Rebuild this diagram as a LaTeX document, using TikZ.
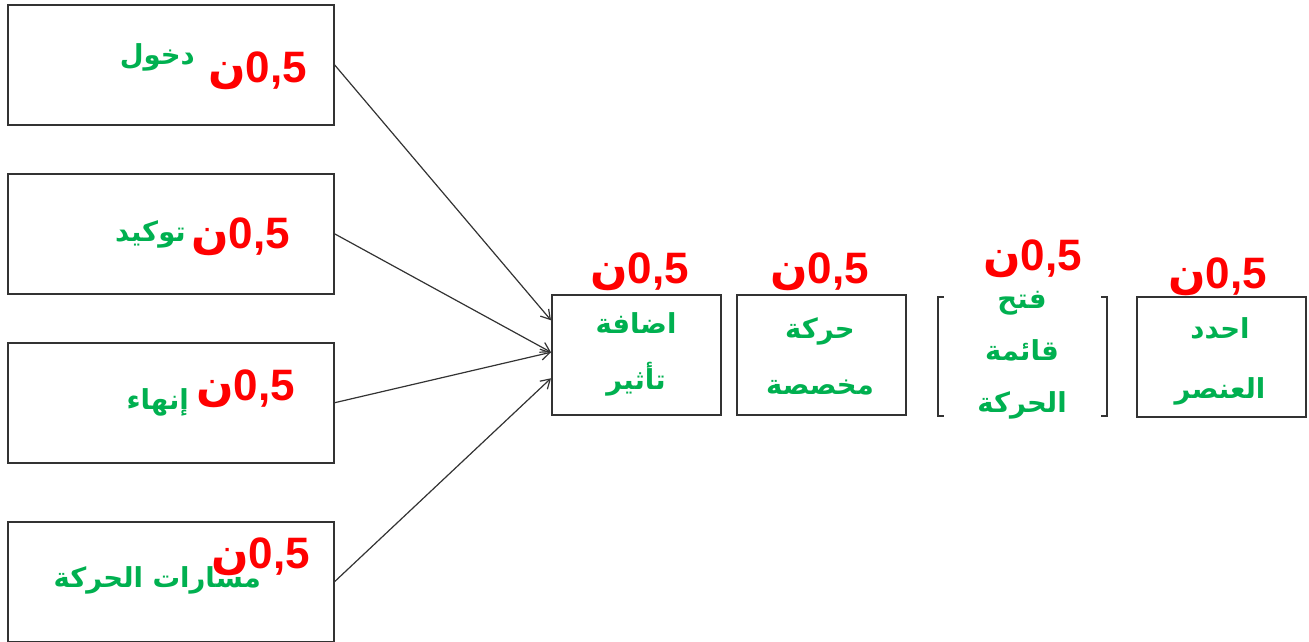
\documentclass[tikz,border=0pt]{standalone}
\usepackage{fontspec}
\setmainfont{Liberation Sans}
\newfontfamily\arabicfont[Script=Arabic]{DejaVu Sans}
\TeXXeTstate=1
\usetikzlibrary{arrows.meta}
\definecolor{redlbl}{HTML}{FF0000}
\definecolor{greenlbl}{HTML}{00B050}
\definecolor{linegray}{HTML}{333333}
\newcommand{\arb}[1]{{\arabicfont\beginR #1\endR}}
\tikzset{
  box/.style={draw=linegray, line width=1.5pt, minimum width=169pt, minimum height=120pt, anchor=north west, inner sep=0pt},
  leftbox/.style={box, minimum width=326pt, minimum height=120pt},
  pts/.style={text=redlbl, font=\fontsize{44}{44}\selectfont\bfseries, inner sep=0pt, anchor=base east},
  word/.style={text=greenlbl, font=\fontsize{27.5}{32}\selectfont\bfseries, inner sep=0pt, align=center},
  conn/.style={draw=linegray, line width=1.2pt, -{Straight Barb[length=9pt,width=11pt,line width=1.2pt]}},
}
\begin{document}
\begin{tikzpicture}[x=1pt,y=-1pt]
\useasboundingbox (0,0) rectangle (1309,641);
\clip (0,0) rectangle (1309,641);
% left boxes
\node[leftbox] (b1) at (7,4) {};
\node[leftbox] (b2) at (7,173) {};
\node[leftbox] (b3) at (7,342) {};
\node[leftbox] (b4) at (7,521) {};
% right boxes
\node[box] (bA) at (551,294) {};
\node[box] (bB) at (736,294) {};
\node[box, minimum height=119pt] (bC) at (937,296) {};
\node[box] (bD) at (1136,296) {};
% white cover over box C top and bottom edges
\node[fill=white, minimum width=157pt, minimum height=140pt, inner sep=0pt] (cC) at (1022,355) {};
% arrow targets
\coordinate (t1) at ([yshift=34.5pt]bA.west);
\coordinate (t2) at ([yshift=2.5pt]bA.west);
\coordinate (t4) at ([yshift=-23.5pt]bA.west);
\draw[conn] (b1.east) -- (t1);
\draw[conn] (b2.east) -- (t2);
\draw[conn] (b3.east) -- (t2);
\draw[conn] (b4.east) -- (t4);
% green words
\node[word, anchor=east] (w1) at (195,57) {\arb{دخول}};
\node[word, anchor=east] (w2) at (186,234) {\arb{توكيد}};
\node[word, anchor=east] (w3) at (189,402) {\arb{إنهاء}};
\node[word, anchor=east] (w4) at (261,580) {\arb{مسارات الحركة}};
\node[word, font=\fontsize{27.5}{56}\selectfont\bfseries] (wA) at (636,354) {\arb{اضافة}\\\arb{تأثير}};
\node[word, font=\fontsize{27.5}{56}\selectfont\bfseries] (wB) at (820,356) {\arb{حركة}\\\arb{مخصصة}};
\node[word, font=\fontsize{27.5}{52}\selectfont\bfseries] (wC) at (1022,355) {\arb{فتح}\\\arb{قائمة}\\\arb{الحركة}};
\node[word, font=\fontsize{27.5}{60}\selectfont\bfseries] (wD) at (1220,361) {\arb{احدد}\\\arb{العنصر}};
% red points
\node[pts] (p1) at (307,82) {\arb{ن}0,5};
\node[pts] (p2) at (290,248) {\arb{ن}0,5};
\node[pts] (p3) at (295,400) {\arb{ن}0,5};
\node[pts] (p4) at (310,568) {\arb{ن}0,5};
\node[pts] (pA) at (689,283) {\arb{ن}0,5};
\node[pts] (pB) at (869,283) {\arb{ن}0,5};
\node[pts] (pC) at (1082,270) {\arb{ن}0,5};
\node[pts] (pD) at (1267,288) {\arb{ن}0,5};
\end{tikzpicture}
\end{document}
